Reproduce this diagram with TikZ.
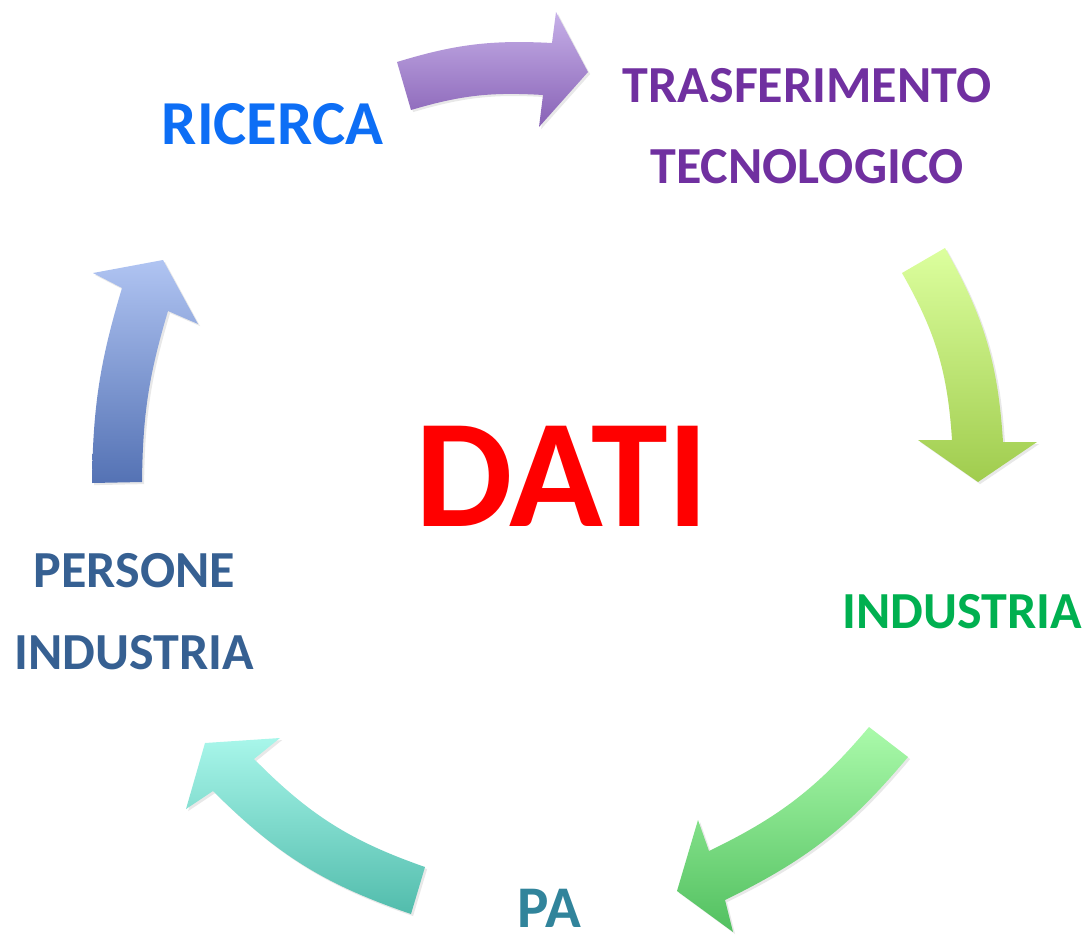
\documentclass[tikz,border=0pt]{standalone}
\usepackage{fontspec}
\setmainfont{Carlito}
\usepackage{tikz}
\usetikzlibrary{positioning,shadows}
\usepackage{xcolor}
\definecolor{ricercacolor}{RGB}{13, 110, 245}
\definecolor{trasfcolor}{RGB}{112, 48, 160}
\definecolor{induscolor}{RGB}{0, 176, 80}
\definecolor{pacolor}{RGB}{49, 132, 155}
\definecolor{personecolor}{RGB}{54, 96, 146}
\definecolor{purpletop}{RGB}{198, 176, 232}
\definecolor{purplebot}{RGB}{136, 98, 182}
\definecolor{limetop}{RGB}{220, 255, 158}
\definecolor{limebot}{RGB}{160, 204, 78}
\definecolor{greentop}{RGB}{170, 250, 170}
\definecolor{greenbot}{RGB}{82, 192, 96}
\definecolor{tealtop}{RGB}{168, 246, 234}
\definecolor{tealbot}{RGB}{82, 188, 172}
\definecolor{bluetop}{RGB}{176, 196, 242}
\definecolor{bluebot}{RGB}{84, 114, 180}

\begin{document}
\begin{tikzpicture}[
    x=0.025cm, y=0.025cm,
    label/.style={font=\fontsize{37}{58}\selectfont\bfseries, inner sep=0pt, align=center},
    arr/.style 2 args={top color=#1, bottom color=#2, draw=none,
        drop shadow={opacity=0.18, shadow xshift=1.5pt, shadow yshift=-1.5pt}}
]
    \useasboundingbox (0,0) rectangle (1088,-935);

    % arrows of the cycle
    \path[arr={purpletop}{purplebot}] (397,-62) to[bend left=10] (552,-43) -- (556,-12) -- (588,-72)
        -- (539,-127) -- (543,-95) to[bend right=10] (411,-110) -- cycle;
    \path[arr={limetop}{limebot}] (945,-248) to[bend left=13] (1003,-442) -- (1037,-442) -- (978,-482)
        -- (918,-440) -- (952,-440) to[bend right=13] (902,-273) -- cycle;
    \path[arr={greentop}{greenbot}] (908,-757) to[bend left=12] (725,-900) -- (733,-932) -- (677,-891)
        -- (698,-820) -- (709,-851) to[bend right=12] (869,-727) -- cycle;
    \path[arr={tealtop}{tealbot}] (411,-914) to[bend left=13] (213,-791) -- (186,-809) -- (205,-743)
        -- (280,-738) -- (254,-759) to[bend right=13] (425,-867) -- cycle;
    \path[arr={bluetop}{bluebot}] (92,-483) to[bend left=8] (122,-288) -- (93,-273) -- (163,-260)
        -- (198,-324) -- (168,-311) to[bend right=8] (142,-482) -- cycle;

    % labels
    \node[label, text=red, font=\fontsize{110}{120}\selectfont\bfseries] (dati) at (562.5,-476.5) {DATI};
    \node[label, text=ricercacolor, font=\fontsize{44.5}{50}\selectfont\bfseries] (ricerca) at (272.5,-124) {RICERCA};
    \node[label, text=trasfcolor] (trasf) at (807,-126) {TRASFERIMENTO\\TECNOLOGICO};
    \node[label, text=induscolor] (industria) at (962.5,-611.5) {INDUSTRIA};
    \node[label, text=pacolor, font=\fontsize{42}{50}\selectfont\bfseries] (pa) at (549.5,-908) {PA};
    \node[label, text=personecolor] (persone) at (134.5,-611.5) {PERSONE\\INDUSTRIA};
\end{tikzpicture}
\end{document}
